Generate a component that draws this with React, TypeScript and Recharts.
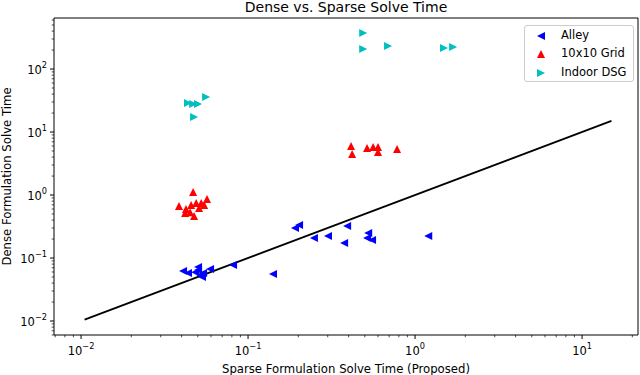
import React from 'react';
import { ScatterChart, Scatter, XAxis, YAxis, ReferenceLine, ReferenceArea, Legend } from 'recharts';

// Sparse (x) vs dense (y) solve times, seconds
const alleySparse = [0.0408, 0.0437, 0.0482, 0.0502, 0.0502, 0.0517, 0.053, 0.0538, 0.0592, 0.0813, 0.141, 0.191, 0.202, 0.248, 0.301, 0.376, 0.392, 0.516, 0.524, 0.553, 1.2];
const alleyDense = [0.0622, 0.0578, 0.0594, 0.0719, 0.0645, 0.0537, 0.0499, 0.0578, 0.0668, 0.0774, 0.0557, 0.299, 0.334, 0.207, 0.223, 0.173, 0.322, 0.207, 0.249, 0.193, 0.223];

const gridSparse = [0.0469, 0.0386, 0.0456, 0.0489, 0.0524, 0.0568, 0.042, 0.045, 0.0475, 0.0509, 0.0425, 0.0546, 0.414, 0.42, 0.516, 0.561, 0.6, 0.6, 0.78];
const gridDense = [1.12, 0.668, 0.693, 0.746, 0.746, 0.865, 0.518, 0.533, 0.464, 0.622, 0.6, 0.693, 6.0, 4.48, 5.57, 5.76, 5.76, 4.82, 5.37];

const dsgSparse = [0.0437, 0.0469, 0.0502, 0.0561, 0.0475, 0.489, 0.489, 0.689, 1.49, 1.69];
const dsgDense = [28.8, 27.8, 27.8, 35.9, 17.3, 373, 208, 232, 215, 223];

// y = x reference
const parityEnds = [0.0105, 15];

const FONT = '"DejaVu Sans", sans-serif';
const X_DOMAIN = [Math.pow(10, -2.162), Math.pow(10, 1.335)];
const Y_DOMAIN = [Math.pow(10, -2.222), Math.pow(10, 2.81)];

const zip = (xs: number[], ys: number[]) => xs.map((x, i) => ({ x, y: ys[i] }));

function logTicks(lo: number, hi: number) {
  const out: number[] = [];
  for (let e = Math.floor(Math.log10(lo)); e <= Math.ceil(Math.log10(hi)); e++) {
    for (let m = 1; m <= 9; m++) {
      const v = m * Math.pow(10, e);
      if (v >= lo && v <= hi) out.push(v);
    }
  }
  return out;
}

const isMajor = (v: number) => {
  const e = Math.log10(v);
  return Math.abs(e - Math.round(e)) < 1e-6;
};
const expLabel = (v: number) => {
  const e = Math.round(Math.log10(v));
  return e < 0 ? '\u2212' + Math.abs(e) : String(e);
};

const XTick = (props: any) => {
  const { x, y, payload } = props;
  const major = isMajor(payload.value);
  return (
    <g>
      <line x1={x} x2={x} y1={y} y2={y + (major ? 4 : 2.3)} stroke="#000" strokeWidth={major ? 1 : 0.7} />
      {major && (
        <text x={x} y={y + 20} textAnchor="middle" fontSize={11.5} fontFamily={FONT} fill="#000">
          10<tspan dy={-6} fontSize={8.2}>{expLabel(payload.value)}</tspan>
        </text>
      )}
    </g>
  );
};

const YTick = (props: any) => {
  const { x, y, payload } = props;
  const major = isMajor(payload.value);
  return (
    <g>
      <line x1={x} x2={x - (major ? 4 : 2.3)} y1={y} y2={y} stroke="#000" strokeWidth={major ? 1 : 0.7} />
      {major && (
        <text x={x - 7} y={y + 5} textAnchor="end" fontSize={11.5} fontFamily={FONT} fill="#000">
          10<tspan dy={-6} fontSize={8.2}>{expLabel(payload.value)}</tspan>
        </text>
      )}
    </g>
  );
};

const R = 4;
const triPoints = (dir: string, cx: number, cy: number, r: number) => {
  if (dir === 'left') return `${cx - r},${cy} ${cx + r},${cy - r} ${cx + r},${cy + r}`;
  if (dir === 'right') return `${cx + r},${cy} ${cx - r},${cy - r} ${cx - r},${cy + r}`;
  return `${cx},${cy - r} ${cx - r},${cy + r} ${cx + r},${cy + r}`;
};

const makeShape = (dir: string, color: string) => (props: any) => {
  const { cx, cy } = props;
  if (cx == null || cy == null) return null;
  return <polygon points={triPoints(dir, cx, cy, R)} fill={color} />;
};

const series = [
  { name: 'Alley', color: '#0000ff', dir: 'left', data: zip(alleySparse, alleyDense) },
  { name: '10x10 Grid', color: '#ff0000', dir: 'up', data: zip(gridSparse, gridDense) },
  { name: 'Indoor DSG', color: '#00bfbf', dir: 'right', data: zip(dsgSparse, dsgDense) },
];

const LegendBox = () => (
  <div
    style={{
      width: 110,
      border: '1px solid #cccccc',
      borderRadius: 3,
      background: 'rgba(255,255,255,0.8)',
      padding: '0 0 0 8px',
      fontFamily: FONT,
      fontSize: 11.5,
      color: '#000',
      boxSizing: 'border-box',
      whiteSpace: 'nowrap',
    }}
  >
    {series.map((s) => (
      <div key={s.name} style={{ display: 'flex', alignItems: 'center', height: 18.3 }}>
        <svg width={16} height={12} style={{ marginRight: 12, flex: 'none' }}>
          <polygon points={triPoints(s.dir, 8, 7, R)} fill={s.color} />
        </svg>
        <span>{s.name}</span>
      </div>
    ))}
  </div>
);

export default function App() {
  return (
    <div style={{ position: 'absolute', left: 0, top: 0, width: 640, height: 375, background: '#fff' }}>
      <div
        style={{
          position: 'absolute',
          left: 54,
          width: 584,
          top: 0,
          textAlign: 'center',
          fontFamily: FONT,
          fontSize: 14,
          lineHeight: '14px',
          color: '#000',
        }}
      >
        Dense vs. Sparse Solve Time
      </div>
      <ScatterChart width={640} height={375} margin={{ top: 18, right: 2, left: 0, bottom: 0 }}>
        <XAxis
          type="number"
          dataKey="x"
          scale="log"
          domain={X_DOMAIN}
          allowDataOverflow
          ticks={logTicks(X_DOMAIN[0], X_DOMAIN[1])}
          interval={0}
          height={40}
          tickSize={0}
          tickMargin={0}
          tickLine={false}
          axisLine={false}
          tick={<XTick />}
          label={{
            content: () => (
              <text x={346} y={373} textAnchor="middle" fontSize={11.7} fontFamily={FONT} fill="#000">
                Sparse Formulation Solve Time (Proposed)
              </text>
            ),
          }}
        />
        <YAxis
          type="number"
          dataKey="y"
          scale="log"
          domain={Y_DOMAIN}
          allowDataOverflow
          ticks={logTicks(Y_DOMAIN[0], Y_DOMAIN[1])}
          interval={0}
          width={54}
          tickSize={0}
          tickMargin={0}
          tickLine={false}
          axisLine={false}
          tick={<YTick />}
          label={{
            content: () => (
              <text
                x={11}
                y={176.5}
                transform="rotate(-90 11 176.5)"
                textAnchor="middle"
                fontSize={11.7}
                fontFamily={FONT}
                fill="#000"
              >
                Dense Formulation Solve Time
              </text>
            ),
          }}
        />
        {series.map((s) => (
          <Scatter
            key={s.name}
            name={s.name}
            data={s.data}
            fill={s.color}
            shape={makeShape(s.dir, s.color)}
            isAnimationActive={false}
          />
        ))}
        <ReferenceLine
          segment={[
            { x: parityEnds[0], y: parityEnds[0] },
            { x: parityEnds[1], y: parityEnds[1] },
          ]}
          stroke="#000"
          strokeWidth={1.8}
          ifOverflow="visible"
        />
        <ReferenceArea
          x1={X_DOMAIN[0]}
          x2={X_DOMAIN[1]}
          y1={Y_DOMAIN[0]}
          y2={Y_DOMAIN[1]}
          fill="none"
          stroke="#000"
          strokeWidth={1}
          ifOverflow="visible"
        />
        <Legend
          layout="vertical"
          align="center"
          verticalAlign="middle"
          content={<LegendBox />}
          wrapperStyle={{ left: 524, top: 25, width: 110 }}
        />
      </ScatterChart>
    </div>
  );
}
